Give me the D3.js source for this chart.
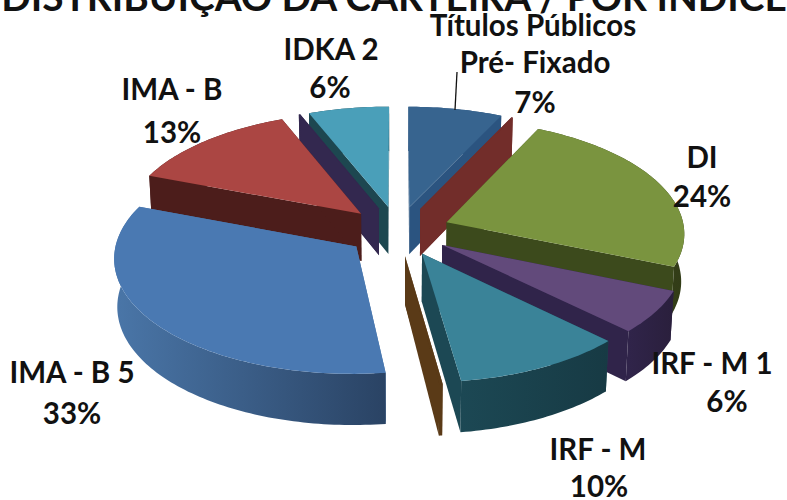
<!DOCTYPE html>
<html><head><meta charset="utf-8">
<script src="https://cdn.jsdelivr.net/npm/d3@7/dist/d3.min.js"></script>
<style>html,body{margin:0;padding:0;background:#fff;overflow:hidden}text{font-family:Lato,Carlito,"Open Sans",sans-serif;font-weight:700;fill:#111}</style>
</head><body><svg id="c" width="787" height="500"></svg>
<script>
// data (clockwise from 12 o'clock); two unlabelled hairline slices and one brown sliver exist in the source
const categories = ["Títulos Públicos Pré- Fixado","(sem rótulo a)","DI","IRF - M 1","IRF - M","(sem rótulo b)","IMA - B 5","IMA - B","(sem rótulo c)","IDKA 2"];
const values = [7,0.1,24,6,10.4,0.2,32.6,13,0.1,6];
const labelLines = [["Títulos Públicos","Pré- Fixado","7%"],[],["DI","24%"],["IRF - M 1","6%"],["IRF - M","10%"],[],["IMA - B 5","33%"],["IMA - B","13%"],[],["IDKA 2","6%"]];
const titleText = "DISTRIBUIÇÃO DA CARTEIRA / POR ÍNDICE";

// styles
const topColors  = ["#37648f","#722d2a","#7a943f","#624a7b","#3a8398","#5a3a17","#4a79b2","#ab4643","#33284f","#4a9fb9"];
const wallLeft   = ["#2b5480","#722d2a","#3c4a1c","#30244a","#1c4854","#5a3a17","#4a76a8","#4c1d1b","#33284f","#1d4750"];
const wallRight  = ["#2b5480","#722d2a","#323c17","#2a1f3c","#173a44","#5a3a17","#2a4364","#4c1d1b","#33284f","#1d4750"];
// label layout
const labelLayout = [
 {xs:[533,535,535],ys:[36,73,113]},null,{xs:[702,702],ys:[168,207]},
 {xs:[712,727],ys:[374,412]},{xs:[598,599],ys:[460,497]},null,
 {xs:[72,72],ys:[383,424]},{xs:[172,172],ys:[100,143]},null,{xs:[331,330],ys:[60,98]}];

// projection of the tilted disc (unit radius)
const cx=398, cy=231, F=2380, D=10, tilt=28.4*Math.PI/180, depth=0.23, explode=0.22;
const sinT=Math.sin(tilt), cosT=Math.cos(tilt);
function project(X,Y,Z){const w=D+Y*cosT-Z*sinT;return [cx+F*X/w, cy-F*(Y*sinT+Z*cosT)/w];}

const svg=d3.select("#c"), defs=svg.append("defs");
const line=d3.line();
const arcs=d3.pie().sort(null).value(d=>d)(values);

const slices=arcs.map((a,i)=>{
  const mid=(a.startAngle+a.endAngle)/2;
  return {i,a0:a.startAngle,a1:a.endAngle,mid,ox:explode*Math.sin(mid),oy:explode*Math.cos(mid)};
}).sort((p,q)=>Math.cos(q.mid)-Math.cos(p.mid));

slices.forEach(s=>{
  const n=Math.max(2,Math.ceil((s.a1-s.a0)/0.02));
  const ang=d3.range(n+1).map(k=>s.a0+(s.a1-s.a0)*k/n);
  const rim=z=>ang.map(t=>project(s.ox+Math.sin(t),s.oy+Math.cos(t),z));
  const top=rim(0), bot=rim(-depth);
  const apexT=project(s.ox,s.oy,0), apexB=project(s.ox,s.oy,-depth);
  const g=svg.append("g");
  const gid="w"+s.i;
  const xs=top.map(p=>p[0]);
  const grad=defs.append("linearGradient").attr("id",gid).attr("gradientUnits","userSpaceOnUse")
    .attr("x1",d3.min(xs)).attr("x2",d3.max(xs)).attr("y1",0).attr("y2",0);
  grad.append("stop").attr("offset",0).attr("stop-color",wallLeft[s.i]);
  grad.append("stop").attr("offset",1).attr("stop-color",wallRight[s.i]);
  const radial=(p,q)=>g.append("path").attr("d",line([apexT,p,q,apexB])+"Z").attr("fill",wallLeft[s.i]);
  radial(top[0],bot[0]);
  radial(top[n],bot[n]);
  g.append("path").attr("d",line(top.concat(bot.slice().reverse()))+"Z").attr("fill",`url(#${gid})`);
  g.append("path").attr("d",line([apexT].concat(top))+"Z").attr("fill",topColors[s.i]);
});

// leader line of first label
svg.append("path").attr("d",line([[457,72],[455,110]])).attr("stroke","#111").attr("stroke-width",1.3).attr("fill","none");

// labels
labelLines.forEach((ls,i)=>{
  if(!labelLayout[i])return;
  ls.forEach((t,k)=>svg.append("text").attr("x",labelLayout[i].xs[k]).attr("y",labelLayout[i].ys[k])
    .attr("text-anchor","middle").attr("font-size",29.5).text(t));
});
svg.append("text").attr("x",394).attr("y",11).attr("text-anchor","middle").attr("font-size",38.8).text(titleText);
</script></body></html>
